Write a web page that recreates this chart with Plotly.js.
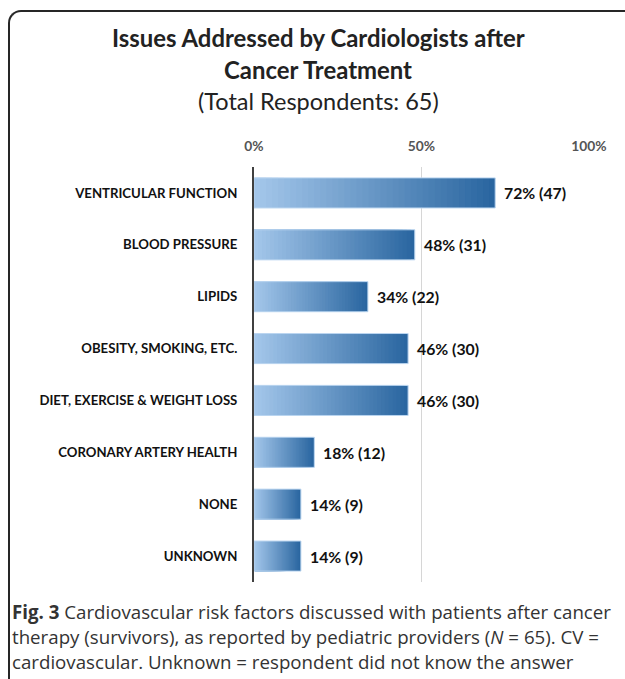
<!DOCTYPE html>
<html>
<head>
<meta charset="utf-8">
<script src="https://cdn.plot.ly/plotly-3.0.1.min.js"></script>
<style>
  html, body { margin: 0; padding: 0; background: #fff; }
  #wrap { position: relative; width: 625px; height: 679px; overflow: hidden; }
  #chart { position: absolute; left: 0; top: 0; width: 625px; height: 679px; }
  #frame { position: absolute; left: 8px; top: 10px; width: 640px; height: 700px;
           border-top: 2px solid #262626; border-left: 2px solid #262626;
           border-top-left-radius: 13px; pointer-events: none; box-sizing: border-box; }
</style>
</head>
<body>
<div id="wrap">
  <div id="chart"></div>
  <div id="frame"></div>
</div>
<script>
// ---- data ----
const categories = ["VENTRICULAR FUNCTION", "BLOOD PRESSURE", "LIPIDS", "OBESITY, SMOKING, ETC.",
                    "DIET, EXERCISE & WEIGHT LOSS", "CORONARY ARTERY HEALTH", "NONE", "UNKNOWN"];
const percents = [72, 48, 34, 46, 46, 18, 14, 14];
const counts = [47, 31, 22, 30, 30, 12, 9, 9];
const tickValues = [0, 50, 100];
const tickLabels = ["0%", "50%", "100%"];

// ---- layout geometry (pixels) ----
const W = 625, H = 679;
const plotL = 254, plotR = 589, plotT = 167, plotB = 582;
const px2x = p => (p - plotL) / (plotR - plotL);
const py2y = p => (plotB - p) / (plotB - plotT);

const FONT = "Lato, 'Open Sans', sans-serif";
const CAPFONT = "'Open Sans', 'Noto Sans', sans-serif";

// gradient emulation: overlaid bars, darkest full length underneath, lighter shorter on top
const N = 40;
const light = [163, 198, 234], dark = [42, 102, 160];
const traces = [];
for (let k = N; k >= 1; k--) {
  const t = (k - 1) / (N - 1);
  const c = light.map((l, i) => Math.round(l + (dark[i] - l) * t));
  traces.push({
    type: "bar", orientation: "h",
    y: categories, x: percents.map(v => v * k / N),
    marker: { color: `rgb(${c[0]},${c[1]},${c[2]})`, line: { width: 0 } },
    width: 0.58, hoverinfo: "skip", showlegend: false
  });
}
// outline
traces.push({
  type: "bar", orientation: "h",
  y: categories, x: percents,
  marker: { color: "rgba(0,0,0,0)", line: { width: 1, color: "#bcd6f0" } },
  width: 0.58, hoverinfo: "skip", showlegend: false
});

const annotations = [];
// value labels
categories.forEach((c, i) => {
  annotations.push({
    xref: "x", yref: "y", x: percents[i], y: c, xanchor: "left", yanchor: "middle",
    xshift: 7, showarrow: false,
    text: `<b>${percents[i]}% (${counts[i]})</b>`,
    font: { family: FONT, size: 15.8, color: "#111" }
  });
});
// titles
const titleLines = [
  { text: "<b>Issues Addressed by Cardiologists after</b>", y: 38, size: 23.9 },
  { text: "<b>Cancer Treatment</b>", y: 70, size: 23.9 },
  { text: "(Total Respondents: 65)", y: 101, size: 23.5 }
];
titleLines.forEach(l => annotations.push({
  xref: "paper", yref: "paper", x: px2x(318), y: py2y(l.y), xanchor: "center", yanchor: "middle",
  showarrow: false, text: l.text, font: { family: FONT, size: l.size, color: "#222" }
}));
// caption
const captionLines = [
  { text: "<b>Fig. 3</b> Cardiovascular risk factors discussed with patients after cancer", y: 611 },
  { text: "therapy (survivors), as reported by pediatric providers (<i>N</i> = 65). CV =", y: 636 },
  { text: "cardiovascular. Unknown = respondent did not know the answer", y: 661 }
];
captionLines.forEach(l => annotations.push({
  xref: "paper", yref: "paper", x: px2x(10), y: py2y(l.y), xanchor: "left", yanchor: "middle",
  showarrow: false, text: l.text, font: { family: CAPFONT, size: 18.7, color: "#333" }
}));

const layout = {
  width: W, height: H,
  margin: { l: plotL, r: W - plotR, t: plotT, b: H - plotB, pad: 0 },
  paper_bgcolor: "#fff", plot_bgcolor: "rgba(0,0,0,0)",
  barmode: "overlay", bargap: 0.42,
  showlegend: false,
  xaxis: {
    side: "top", range: [0, 100], tickvals: tickValues, ticktext: tickLabels,
    showgrid: true, gridcolor: "#d6d6d6", gridwidth: 1, zeroline: false, showline: false,
    ticks: "", ticklabelstandoff: 12,
    tickfont: { family: FONT, size: 13.8, color: "#555", weight: "bold" },
    fixedrange: true
  },
  yaxis: {
    autorange: "reversed", type: "category",
    showline: true, linecolor: "#404040", linewidth: 2, showgrid: false, zeroline: false,
    ticks: "", ticklabelstandoff: 12,
    tickfont: { family: FONT, size: 13.2, color: "#111", weight: "bold" },
    fixedrange: true
  },
  annotations: annotations
};

Plotly.newPlot("chart", traces, layout, { displayModeBar: false, staticPlot: true });
</script>
</body>
</html>
